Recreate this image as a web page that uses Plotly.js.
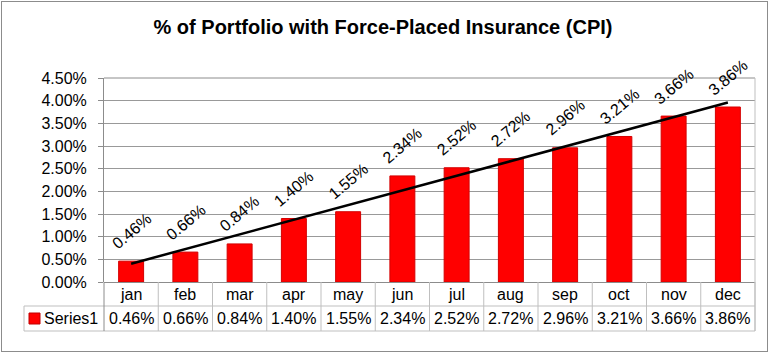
<!DOCTYPE html>
<html><head><meta charset="utf-8">
<script src="https://cdn.plot.ly/plotly-3.0.1.min.js"></script>
<style>
body{margin:0;background:#fff}
#chart{width:770px;height:354px}
#frame{position:absolute;left:1px;top:1px;width:765px;height:349px;border:1px solid #8c8c8c;pointer-events:none}
</style>
</head><body>
<div id="chart"></div><div id="frame"></div>
<script>
const categories = ['jan','feb','mar','apr','may','jun','jul','aug','sep','oct','nov','dec'];
const values = [0.46,0.66,0.84,1.40,1.55,2.34,2.52,2.72,2.96,3.21,3.66,3.86];
const seriesName = 'Series1';
const yTickVals = [0,0.5,1,1.5,2,2.5,3,3.5,4,4.5];
const titleText = '% of Portfolio with Force-Placed Insurance (CPI)';

const fmt = v => v.toFixed(2) + '%';
const idx = categories.map((c,i)=>i);

// linear trendline (least squares) from the data
const n = values.length;
const mx = idx.reduce((a,b)=>a+b,0)/n;
const my = values.reduce((a,b)=>a+b,0)/n;
let sxy=0, sxx=0;
idx.forEach((x,i)=>{sxy+=(x-mx)*(values[i]-my); sxx+=(x-mx)*(x-mx);});
const slope = sxy/sxx, icpt = my - slope*mx;
const trendX = [idx[0], idx[n-1]];
const trendY = trendX.map(x=>icpt+slope*x);

// layout geometry (pixels)
const W=770,H=354, L=104, R=755, T=78, B=282;
const pw=R-L, ph=B-T;
const px = x => (x-L)/pw;          // pixel -> paper x
const py = y => (B-y)/ph;          // pixel -> paper y
const row1Bot=306, row2Bot=331, tableLeft=24;
const gridCol='#999999', tblCol='#bfbfbf';
const font = 'Arial, "Liberation Sans", sans-serif';

const shapes = [];
const annotations = [];
// plot border (top & right)
shapes.push({type:'line',xref:'paper',yref:'paper',x0:0,x1:1,y0:1,y1:1,line:{color:'#8c8c8c',width:1}});
shapes.push({type:'line',xref:'paper',yref:'paper',x0:1,x1:1,y0:1,y1:py(row2Bot),line:{color:tblCol,width:1}});
// table lines
shapes.push({type:'line',xref:'paper',yref:'paper',x0:px(tableLeft),x1:1,y0:py(row1Bot),y1:py(row1Bot),line:{color:tblCol,width:1}});
shapes.push({type:'line',xref:'paper',yref:'paper',x0:px(tableLeft),x1:1,y0:py(row2Bot),y1:py(row2Bot),line:{color:tblCol,width:1}});
shapes.push({type:'line',xref:'paper',yref:'paper',x0:px(tableLeft),x1:px(tableLeft),y0:py(row1Bot),y1:py(row2Bot),line:{color:tblCol,width:1}});
for(let i=0;i<=categories.length;i++){
  shapes.push({type:'line',xref:'paper',yref:'paper',x0:i/categories.length,x1:i/categories.length,y0:0,y1:py(row2Bot),
    line:{color:i===0?'#8c8c8c':tblCol,width:1}});
}
// legend key
shapes.push({type:'rect',xref:'paper',yref:'paper',x0:px(29),x1:px(40),y0:py(313),y1:py(324),fillcolor:'#ff0000',line:{color:'#c00000',width:1}});

categories.forEach((c,i)=>{
  const cx=(i+0.5)/categories.length;
  annotations.push({xref:'paper',yref:'paper',x:cx,y:py((B+row1Bot)/2),text:c,showarrow:false,font:{family:font,size:16,color:'#000'},xanchor:'center',yanchor:'middle'});
  annotations.push({xref:'paper',yref:'paper',x:cx,y:py((row1Bot+row2Bot)/2),text:fmt(values[i]),showarrow:false,font:{family:font,size:16,color:'#000'},xanchor:'center',yanchor:'middle'});
  annotations.push({xref:'x',yref:'y',x:i,y:values[i],yshift:30,text:fmt(values[i]),textangle:-40,showarrow:false,font:{family:font,size:16,color:'#000'},xanchor:'center',yanchor:'middle'});
});
annotations.push({xref:'paper',yref:'paper',x:px(42),y:py((row1Bot+row2Bot)/2),text:seriesName,showarrow:false,font:{family:font,size:16,color:'#000'},xanchor:'left',yanchor:'middle'});

const data = [
  {type:'bar',x:idx,y:values,name:seriesName,width:0.46,marker:{color:'#ff0000',line:{color:'#d40000',width:1}},hoverinfo:'skip'},
  {type:'scatter',mode:'lines',x:trendX,y:trendY,line:{color:'#000',width:2.5},hoverinfo:'skip'}
];
const layout = {
  width:W,height:H,margin:{l:L,r:W-R,t:T,b:H-B,pad:0},
  paper_bgcolor:'#fff',plot_bgcolor:'#fff',showlegend:false,
  title:{text:'<b>'+titleText+'</b>',x:383/W,xanchor:'center',xref:'container',y:1-27/H,yref:'container',yanchor:'middle',
    font:{family:'"Liberation Sans Narrow","Arial Narrow",Arial,sans-serif',size:20,color:'#000'}},
  xaxis:{range:[-0.5,categories.length-0.5],showticklabels:false,showgrid:false,zeroline:false,showline:false,ticks:'',fixedrange:true},
  yaxis:{range:[0,4.5],tickvals:yTickVals,ticktext:yTickVals.map(fmt),showgrid:true,gridcolor:gridCol,gridwidth:1,
    zeroline:true,zerolinecolor:'#8c8c8c',zerolinewidth:1,showline:true,linecolor:'#8c8c8c',linewidth:1,
    ticks:'outside',ticklen:5,tickcolor:'#8c8c8c',ticklabelstandoff:8,
    tickfont:{family:font,size:16,color:'#000'},fixedrange:true},
  shapes:shapes,annotations:annotations
};
Plotly.newPlot('chart',data,layout,{displayModeBar:false,staticPlot:true});
</script>
</body></html>
